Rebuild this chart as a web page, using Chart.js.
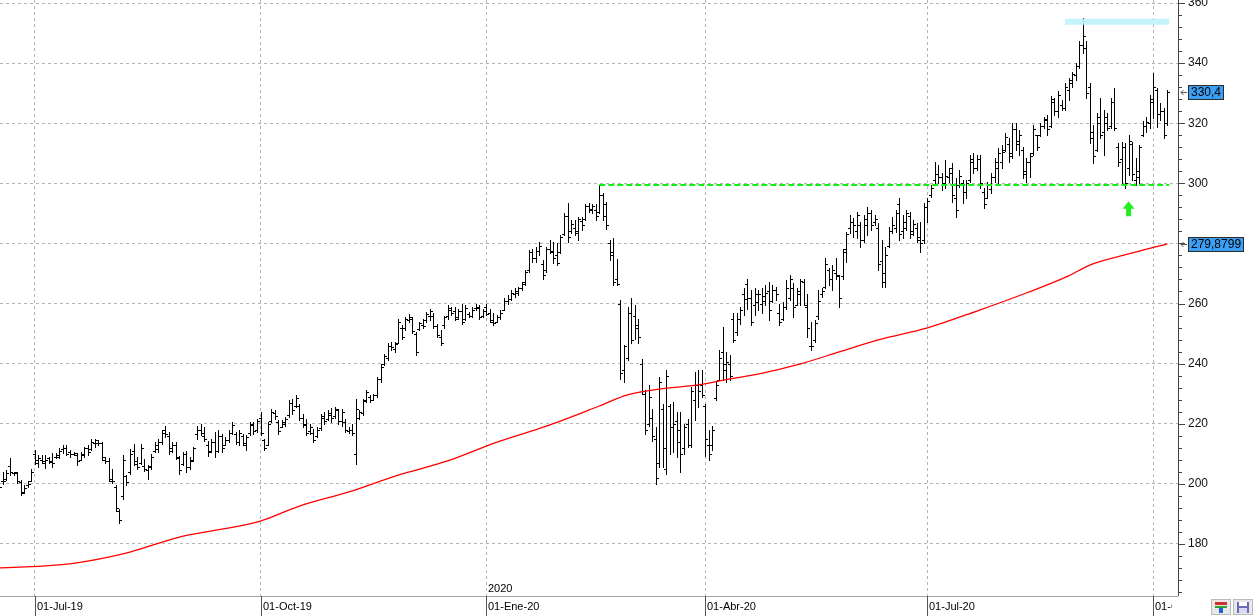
<!DOCTYPE html>
<html>
<head>
<meta charset="utf-8">
<script src="https://cdn.jsdelivr.net/npm/chart.js@4.4.1/dist/chart.umd.min.js"></script>
<style>
  html, body { margin: 0; padding: 0; background: #fff; }
  #wrap { width: 1256px; height: 616px; }
</style>
</head>
<body>
<div id="wrap"><canvas id="chart" width="1256" height="616"></canvas></div>
<script>
// daily bars, index 0 = first visible session (mid-June 2019)
const highs = [
  200.0,204.0,204.6,208.5,204.0,204.0,201.3,199.7,200.8,204.8,
  211.4,209.5,209.5,209.5,209.0,210.1,210.1,211.8,212.9,212.9,
  211.2,210.6,210.1,210.6,212.3,212.9,215.0,215.0,214.5,214.0,
  209.0,208.5,205.0,199.7,191.5,209.5,203.0,211.7,213.3,208.9,
  213.3,208.3,206.1,210.0,213.9,215.0,218.0,219.4,217.2,213.9,
  213.9,209.4,210.6,210.8,208.9,212.4,219.4,220.0,218.9,214.4,
  215.0,217.2,217.8,216.7,215.6,217.8,220.6,217.2,217.8,216.7,
  216.1,220.6,220.6,221.7,223.9,215.0,220.6,225.0,224.4,221.1,
  221.1,222.2,227.8,228.3,229.4,226.7,223.3,221.7,220.0,218.3,
  218.9,223.3,223.9,224.4,225.3,225.5,225.0,225.0,221.7,219.0,
  220.0,228.3,224.4,228.3,231.1,229.4,230.0,235.6,240.0,243.3,
  246.7,247.2,247.2,255.0,252.8,255.6,256.4,255.6,250.6,253.9,
  255.0,257.2,258.3,256.7,253.3,251.3,256.0,259.4,258.9,258.9,
  258.3,260.0,259.4,257.2,258.9,260.0,259.4,258.3,260.0,258.3,
  256.7,256.1,257.8,261.7,262.8,264.4,265.0,265.6,267.2,271.1,
  277.8,278.3,278.9,280.6,274.4,278.9,281.1,280.6,280.0,282.8,
  290.0,293.3,287.8,287.8,288.9,288.9,293.1,293.3,293.1,293.1,
  299.4,296.7,293.9,281.1,281.7,274.7,261.1,246.1,258.9,261.7,
  259.4,254.7,241.7,231.1,232.8,225.0,218.9,235.6,226.7,237.8,
  226.7,227.2,223.9,223.9,220.0,221.7,232.2,237.2,237.8,237.8,
  226.7,217.8,219.4,233.9,244.4,252.2,243.9,242.8,256.7,256.7,
  258.9,265.0,268.3,264.4,265.0,264.4,265.0,266.1,267.2,266.1,
  265.6,260.0,260.6,267.8,269.4,266.7,265.0,268.3,268.3,263.3,
  253.9,254.4,264.4,265.0,275.0,271.7,272.8,275.0,269.4,278.3,
  283.9,289.4,288.3,290.6,287.2,289.4,292.2,291.1,289.4,286.7,
  281.1,278.9,285.6,288.9,291.1,295.0,289.4,291.1,290.6,287.8,
  286.7,287.2,293.3,295.0,299.4,307.2,306.1,303.3,307.8,305.0,
  306.7,301.7,304.4,301.1,301.1,309.4,310.0,309.4,309.4,298.3,
  300.6,303.3,308.3,311.7,312.8,316.7,315.0,320.0,320.0,317.8,
  312.2,308.3,310.0,319.4,316.1,320.0,322.2,322.8,328.9,328.3,
  330.6,327.8,333.3,335.0,337.0,340.0,347.2,355.0,347.2,333.3,
  319.4,323.3,328.3,324.4,323.3,328.3,331.7,313.3,313.9,313.3,
  316.1,313.9,308.3,312.8,320.6,322.2,329.4,336.7,331.7,326.7,
  325.0,331.1
];
const lows = [
  198.5,200.0,201.3,203.0,203.0,200.4,196.4,196.9,199.1,200.8,
  206.5,205.7,206.8,205.2,206.8,205.7,208.5,208.5,210.1,209.5,
  209.0,209.5,206.3,207.9,209.0,209.5,211.2,212.3,212.9,207.9,
  206.8,200.8,200.2,190.9,187.0,195.0,199.5,203.3,206.1,205.0,
  206.7,204.4,201.7,205.0,210.6,210.6,213.3,215.6,210.0,210.6,
  208.3,203.3,206.1,203.9,205.0,207.6,215.0,216.1,214.4,209.4,
  210.6,208.9,210.6,210.6,212.8,213.9,216.7,213.3,212.8,212.8,
  211.1,216.1,216.7,217.2,216.1,211.1,212.8,220.6,221.7,216.7,
  218.9,219.4,222.2,223.3,225.6,221.1,218.9,216.1,216.7,213.9,
  215.6,217.8,220.0,221.1,220.5,222.0,220.0,219.4,217.2,216.8,
  216.1,206.7,221.7,222.8,227.2,227.2,227.8,228.9,233.9,239.4,
  241.1,244.4,243.9,246.7,248.3,251.1,253.9,250.2,242.8,251.1,
  251.7,253.9,254.4,251.7,248.9,246.1,252.0,255.0,256.1,254.4,
  255.0,253.3,254.4,255.6,255.6,257.8,255.0,255.6,256.1,253.9,
  252.8,253.9,255.0,257.8,260.0,261.1,262.2,262.8,264.4,266.1,
  270.6,273.9,273.9,276.1,268.3,270.6,276.7,273.5,272.8,276.7,
  282.8,280.6,283.3,282.8,281.3,284.4,287.8,290.6,290.0,287.8,
  290.0,287.8,284.7,274.4,266.1,266.1,235.0,233.9,241.1,246.7,
  248.3,246.7,230.0,216.7,219.4,214.4,200.0,205.6,205.6,203.3,
  210.0,210.6,208.9,203.9,210.0,212.2,212.2,221.1,225.6,228.9,
  209.4,207.8,211.1,227.8,234.4,234.4,233.9,234.4,247.2,249.4,
  253.3,256.1,258.3,252.8,256.1,257.8,256.7,259.4,254.4,260.6,
  261.1,252.8,254.4,258.3,261.1,255.6,259.4,259.4,259.4,248.9,
  244.4,247.2,255.0,262.2,265.0,266.1,264.4,268.3,258.9,268.3,
  273.9,283.3,282.2,281.7,278.9,280.6,282.8,284.4,286.1,271.1,
  265.6,265.6,278.9,283.3,283.9,281.1,281.7,284.4,281.7,282.8,
  280.6,277.2,280.0,287.2,295.6,299.4,300.0,297.8,298.3,300.6,
  293.9,288.9,298.9,293.3,295.0,300.6,303.3,304.4,298.3,291.7,
  295.0,296.7,300.6,300.0,305.0,310.6,307.2,308.3,311.1,309.4,
  301.7,300.6,302.2,309.4,311.1,315.6,318.3,316.1,318.9,322.8,
  322.2,324.4,324.4,327.8,332.2,334.4,338.3,343.3,328.3,313.3,
  306.7,310.6,315.0,309.4,317.8,318.3,317.8,305.6,300.0,298.3,
  302.8,301.1,299.4,300.0,315.6,317.2,318.3,321.7,318.9,321.1,
  315.0,319.4
];
const opens = [
  199.5,201.0,201.5,206.0,203.5,203.8,200.5,197.2,199.5,201.0,
  210.0,207.0,208.0,207.0,208.5,207.4,209.0,209.0,211.5,212.0,
  210.5,210.0,209.5,208.0,209.5,212.0,211.5,213.5,213.5,213.5,
  208.0,207.5,201.0,199.0,191.0,196.0,202.5,204.0,211.0,206.5,
  207.0,206.0,204.5,205.5,211.0,211.5,214.0,218.0,216.0,212.0,
  213.0,208.5,206.5,210.0,205.5,208.0,216.5,218.0,216.0,213.0,
  211.0,214.0,211.0,216.0,213.0,214.5,217.0,216.5,214.0,216.0,
  213.0,217.0,219.5,218.0,222.0,214.5,213.0,221.0,223.5,220.5,
  219.0,220.0,223.0,227.0,226.0,226.0,222.0,220.0,217.5,217.0,
  216.0,218.5,222.0,221.5,223.0,222.5,224.5,221.0,220.5,217.5,
  218.0,210.0,222.0,223.5,228.0,229.0,228.0,229.5,235.0,240.0,
  242.0,246.0,245.0,247.0,252.0,252.0,254.5,255.0,250.0,251.5,
  253.0,254.5,256.0,256.0,252.5,249.0,253.0,256.0,258.0,257.5,
  255.5,257.5,255.0,256.5,256.0,258.5,258.5,256.0,259.0,257.0,
  254.0,254.0,255.5,258.0,261.0,261.5,263.0,263.5,265.0,267.0,
  271.0,277.0,275.0,277.5,273.0,271.0,278.0,277.0,276.0,277.0,
  283.0,289.0,284.0,285.0,284.0,287.5,288.0,292.5,291.0,291.0,
  290.5,296.0,293.0,280.0,277.0,268.0,260.0,238.0,242.0,257.0,
  256.0,253.0,240.0,230.0,220.0,222.0,215.0,207.0,225.0,205.0,
  226.0,219.0,221.0,218.0,212.0,220.0,213.0,228.0,233.0,233.0,
  226.0,213.0,213.0,228.5,234.5,244.0,238.0,240.0,255.0,250.5,
  255.0,263.0,266.5,262.0,259.5,260.5,260.0,261.0,264.0,261.0,
  264.5,257.0,255.0,259.0,262.0,265.0,259.5,263.0,267.0,259.0,
  246.0,248.0,256.0,263.0,265.5,271.0,268.0,270.0,269.0,269.0,
  277.0,285.0,287.0,284.0,286.0,281.0,286.0,290.0,287.0,285.0,
  274.0,270.0,279.0,284.0,285.0,293.0,284.0,285.0,289.0,284.0,
  285.0,281.0,281.0,292.0,296.0,301.0,303.0,302.0,300.0,302.0,
  305.0,295.0,299.5,300.0,297.0,301.0,307.0,305.0,308.0,297.0,
  295.0,298.0,302.0,305.0,307.0,311.0,313.0,310.0,318.0,314.0,
  311.0,304.0,307.0,310.0,316.0,316.0,319.0,321.0,319.0,327.0,
  324.0,326.0,325.0,331.0,333.5,336.0,339.0,346.0,345.0,332.0,
  317.0,311.0,320.0,317.0,320.0,319.0,327.0,312.0,308.0,312.0,
  305.0,313.0,301.0,302.0,316.0,319.0,320.0,328.0,331.0,323.0,
  324.0,320.0
];
const closes = [
  199.0,200.8,203.5,204.0,203.5,201.0,197.0,198.5,200.0,204.0,
  208.0,208.5,207.5,208.0,207.5,207.0,209.5,211.0,212.0,210.0,
  210.0,210.2,207.5,210.0,212.0,210.5,214.0,214.5,213.5,209.0,
  207.5,201.5,201.0,192.0,188.0,208.0,200.5,210.0,207.5,205.5,
  212.0,205.0,206.0,209.0,213.0,214.0,217.0,216.5,211.0,213.0,
  209.0,204.5,210.0,205.5,207.5,212.0,218.0,217.0,215.0,210.5,
  214.0,211.0,216.0,212.0,214.5,217.0,219.5,214.0,217.0,213.5,
  215.5,220.0,217.5,221.0,217.0,212.0,220.0,224.0,222.5,217.5,
  220.5,221.5,227.0,224.5,228.5,222.0,219.5,217.0,219.0,214.5,
  218.0,222.5,221.0,223.5,222.0,225.0,221.0,224.0,218.0,218.0,
  217.0,225.0,224.0,227.5,230.5,228.0,229.5,235.0,239.0,242.5,
  246.0,245.5,246.5,254.0,249.0,255.0,255.5,251.0,244.0,253.5,
  252.5,256.5,257.5,252.5,249.5,247.0,255.5,258.5,257.0,255.0,
  257.5,254.0,258.5,256.0,258.0,259.0,255.5,257.5,256.5,254.5,
  253.5,255.5,257.0,261.0,261.5,263.5,264.0,265.0,266.5,270.5,
  277.0,275.0,277.5,279.0,269.5,278.0,277.5,275.0,273.5,282.0,
  289.0,282.0,286.5,283.5,288.0,286.0,292.5,291.5,292.5,289.0,
  296.0,289.0,286.0,276.0,267.0,266.5,237.0,246.0,257.0,248.0,
  252.0,249.0,231.0,218.0,229.0,216.0,202.0,234.0,212.0,236.0,
  219.0,220.0,214.0,210.0,219.0,213.0,231.0,233.0,231.0,229.5,
  215.0,210.0,218.0,233.0,242.0,240.0,240.5,236.0,248.0,255.0,
  258.0,261.5,262.0,254.0,263.0,263.0,262.5,263.5,258.0,264.5,
  263.0,254.0,259.0,265.0,268.0,259.0,264.0,267.5,259.5,252.0,
  246.0,253.5,261.0,264.0,273.0,268.0,271.0,269.5,262.0,278.0,
  283.0,287.0,286.0,289.5,281.0,288.0,290.0,286.0,288.0,273.0,
  267.0,276.0,284.0,286.0,290.0,283.0,287.0,290.0,283.0,286.5,
  282.0,280.0,292.0,294.0,298.5,303.0,302.0,300.0,302.5,303.5,
  296.0,291.0,302.5,297.0,300.0,308.0,305.0,308.0,300.0,293.0,
  299.5,302.0,307.0,310.0,310.5,315.5,309.0,318.0,313.0,316.0,
  303.0,307.0,309.0,318.0,312.0,319.0,321.5,318.0,328.0,324.0,
  329.5,325.0,332.0,334.5,336.5,339.0,346.0,349.0,330.0,315.0,
  309.0,322.0,316.0,322.0,318.5,327.0,318.5,307.0,312.0,300.0,
  314.0,303.0,304.0,312.0,319.0,320.5,327.0,332.0,323.0,324.0,
  316.0,330.4
];

// moving average (red), read at these bar indices
const maIdx = [0, 17, 25, 37, 51, 74, 85, 99, 113, 127, 141, 155, 170, 178, 187, 198, 207, 215, 227, 238, 249, 263, 277, 291, 303, 309, 320, 331];
const maVal = [172.0, 173.0, 174.3, 177.3, 182.3, 187.6, 192.6, 197.3, 202.9, 207.6, 213.9, 219.2, 225.9, 229.6, 231.5, 232.9, 234.9, 236.5, 239.9, 243.9, 247.9, 251.9, 257.5, 263.5, 269.2, 272.8, 276.5, 279.8799];

// drawn levels
const supportLevel = 299.4, supportFrom = 170, supportTo = 331.5;
const resistLevel = 353.8, resistFrom = 302, resistTo = 331.5;
const arrowIdx = 320, arrowTip = 294.0, arrowBase = 289.0;
const lastPrice = 330.4, lastPriceText = '330,4';
const maLast = 279.8799, maLastText = '279,8799';

// axes
const tickIdx = [10, 74, 138, 200, 263, 327];
const tickLabels = ['01-Jul-19', '01-Oct-19', '01-Ene-20', '01-Abr-20', '01-Jul-20', '01-Oct-20'];
const yearIdx = 138, yearLabel = '2020';
const yTicks = [180, 200, 220, 240, 260, 280, 300, 320, 340, 360];
const xMin = 0.166, xMax = 334.0, yMin = 162.67, yMax = 361.0;

const font = '"Liberation Sans", Arial, sans-serif';

const ohlcBars = {
  id: 'ohlcBars',
  beforeDatasetsDraw(chart) {
    const { ctx, chartArea: a, scales: { x, y } } = chart;
    ctx.save();
    ctx.beginPath();
    ctx.rect(a.left, a.top, a.right - a.left, a.bottom - a.top);
    ctx.clip();
    ctx.fillStyle = '#000';
    highs.forEach((h, i) => {
      const px = Math.round(x.getPixelForValue(i));
      const yh = Math.round(y.getPixelForValue(h));
      const yl = Math.round(y.getPixelForValue(lows[i]));
      const yo = Math.round(y.getPixelForValue(opens[i]));
      const yc = Math.round(y.getPixelForValue(closes[i]));
      ctx.fillRect(px, yh, 1, yl - yh + 1);
      ctx.fillRect(px - 2, yo, 2, 1);
      ctx.fillRect(px + 1, yc, 2, 1);
    });
    ctx.restore();
  }
};

const decorations = {
  id: 'decorations',
  afterDraw(chart) {
    const { ctx, chartArea: a, scales: { x, y } } = chart;
    ctx.save();

    // bottom strip: separator, date ticks and labels (clipped before the axis)
    ctx.fillStyle = '#a0a0a0';
    ctx.fillRect(0, a.bottom, a.right, 1);
    ctx.save();
    ctx.beginPath();
    ctx.rect(0, a.bottom, a.right - 6, 616 - a.bottom);
    ctx.clip();
    ctx.font = '11px ' + font;
    ctx.textBaseline = 'middle';
    ctx.textAlign = 'left';
    tickIdx.forEach((v, k) => {
      const px = Math.round(x.getPixelForValue(v));
      ctx.fillStyle = '#555';
      ctx.fillRect(px, a.bottom, 1, 616 - a.bottom);
      ctx.fillStyle = '#000';
      ctx.fillText(tickLabels[k], px + 2, a.bottom + 11);
    });
    ctx.restore();

    // year marker inside the plot
    ctx.font = '11px ' + font;
    ctx.fillStyle = '#000';
    ctx.textBaseline = 'alphabetic';
    ctx.fillText(yearLabel, Math.round(x.getPixelForValue(yearIdx)) + 2, a.bottom - 4);

    // right axis line and ticks
    ctx.fillStyle = '#444';
    ctx.fillRect(a.right, 0, 1, a.bottom);
    for (let v = 164; v <= 360; v += 4) {
      const py = Math.round(y.getPixelForValue(v));
      ctx.fillRect(a.right + 1, py, v % 20 === 0 ? 6 : 3, 1);
    }

    // green arrow
    const ax = x.getPixelForValue(arrowIdx);
    const ty = y.getPixelForValue(arrowTip), by = y.getPixelForValue(arrowBase);
    const hh = (by - ty) * 0.5;
    ctx.fillStyle = '#22ee22';
    ctx.beginPath();
    ctx.moveTo(ax, ty);
    ctx.lineTo(ax + 6, ty + hh);
    ctx.lineTo(ax + 2.5, ty + hh);
    ctx.lineTo(ax + 2.5, by);
    ctx.lineTo(ax - 2.5, by);
    ctx.lineTo(ax - 2.5, ty + hh);
    ctx.lineTo(ax - 6, ty + hh);
    ctx.closePath();
    ctx.fill();

    // value boxes on the right axis
    const box = (val, text) => {
      const py = Math.round(y.getPixelForValue(val));
      ctx.font = '12px ' + font;
      const w = Math.ceil(ctx.measureText(text).width) + 5;
      const bx = a.right + 10;
      ctx.fillStyle = '#3ba0f5';
      ctx.fillRect(bx, py - 7, w, 15);
      ctx.strokeStyle = '#2a2a2a';
      ctx.lineWidth = 1;
      ctx.strokeRect(bx + 0.5, py - 6.5, w - 1, 14);
      ctx.fillStyle = '#000';
      ctx.textBaseline = 'middle';
      ctx.textAlign = 'left';
      ctx.fillText(text, bx + 3, py + 1);
      ctx.strokeStyle = '#555';
      ctx.beginPath();
      ctx.moveTo(a.right + 3, py + 0.5);
      ctx.lineTo(a.right + 9, py + 0.5);
      ctx.moveTo(a.right + 5.5, py - 2);
      ctx.lineTo(a.right + 3, py + 0.5);
      ctx.lineTo(a.right + 5.5, py + 3);
      ctx.stroke();
    };
    box(lastPrice, lastPriceText);
    box(maLast, maLastText);

    // toolbar icons, bottom right
    ctx.fillStyle = '#e8e8e8';
    ctx.fillRect(1211, 599, 20, 16);
    ctx.fillRect(1233, 599, 20, 16);
    ctx.strokeStyle = '#bbb';
    ctx.strokeRect(1211.5, 599.5, 19, 15);
    ctx.strokeRect(1233.5, 599.5, 19, 15);
    ctx.fillStyle = '#d03030'; ctx.fillRect(1215, 602, 12, 3);
    ctx.fillStyle = '#30a030'; ctx.fillRect(1215, 606, 12, 2);
    ctx.fillStyle = '#2060e0'; ctx.fillRect(1219, 608, 4, 5);
    ctx.fillStyle = '#6a6ab8'; ctx.fillRect(1237, 602, 12, 11);
    ctx.fillStyle = '#fff'; ctx.fillRect(1239, 602, 8, 4);
    ctx.fillStyle = '#d8d8f0'; ctx.fillRect(1239, 608, 8, 5);

    ctx.restore();
  }
};

new Chart(document.getElementById('chart'), {
  type: 'line',
  data: {
    datasets: [
      {
        label: 'media',
        data: maIdx.map((v, k) => ({ x: v, y: maVal[k] })),
        borderColor: '#ff0000',
        borderWidth: 1.3,
        pointRadius: 0,
        cubicInterpolationMode: 'monotone'
      },
      {
        label: 'soporte',
        data: [{ x: supportFrom, y: supportLevel }, { x: supportTo, y: supportLevel }],
        borderColor: '#11ee11',
        borderWidth: 2,
        borderDash: [6, 3],
        pointRadius: 0
      },
      {
        label: 'resistencia',
        data: [{ x: resistFrom, y: resistLevel }, { x: resistTo, y: resistLevel }],
        borderColor: 'rgba(190, 242, 252, 0.9)',
        borderWidth: 6,
        pointRadius: 0
      }
    ]
  },
  options: {
    responsive: false,
    animation: false,
    events: [],
    layout: { padding: 0 },
    plugins: { legend: { display: false }, tooltip: { enabled: false } },
    scales: {
      x: {
        type: 'linear',
        min: xMin,
        max: xMax,
        afterBuildTicks: s => { s.ticks = tickIdx.map(v => ({ value: v })); },
        ticks: { display: false },
        grid: { color: '#b4b4b4', drawTicks: false, borderDash: [3, 3] },
        border: { display: false, dash: [3, 3] },
        afterFit: s => { s.height = 20; }
      },
      y: {
        position: 'right',
        min: yMin,
        max: yMax,
        afterBuildTicks: s => { s.ticks = yTicks.map(v => ({ value: v })); },
        ticks: {
          autoSkip: false,
          padding: 10,
          color: '#111',
          font: { family: font, size: 12 },
          callback: v => String(v)
        },
        grid: { color: '#b4b4b4', drawTicks: false, borderDash: [3, 3] },
        border: { display: false, dash: [3, 3] },
        afterFit: s => { s.width = 78; s.paddingTop = 0; s.paddingBottom = 0; }
      }
    }
  },
  plugins: [ohlcBars, decorations]
});
</script>
</body>
</html>
